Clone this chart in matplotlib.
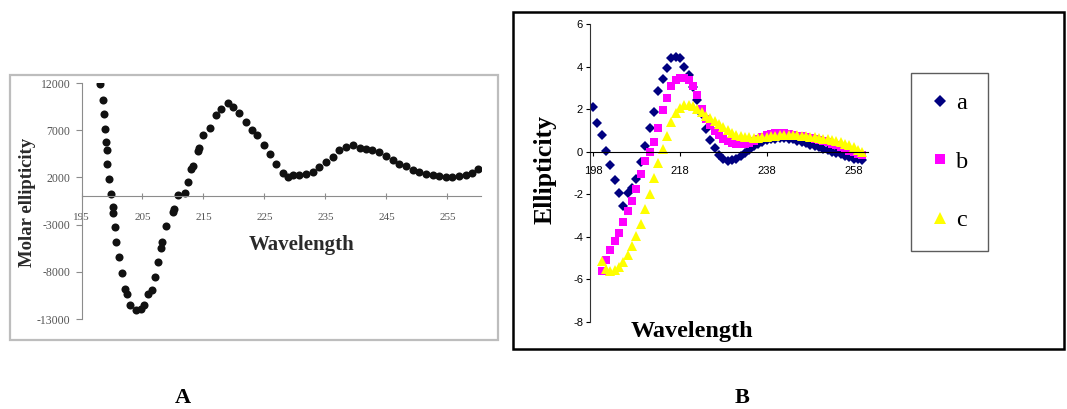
import matplotlib
matplotlib.use("Agg")
import matplotlib.pyplot as plt
from matplotlib.patches import Rectangle

plt.rcParams["axes.unicode_minus"] = False

W, H = 1067, 409

# ---------------- Panel A data ----------------
wl_A = [198.0, 198.5, 198.7, 198.9, 199.0, 199.1, 199.2, 199.5, 199.8, 200.1,
        200.2, 200.5, 200.7, 201.2, 201.6, 202.1, 202.5, 203.0, 203.9, 204.8,
        205.3, 205.9, 206.5, 207.0, 207.5, 208.0, 208.2, 208.9, 210.0, 210.2,
        210.9, 212.0, 212.5, 213.0, 213.2, 214.1, 214.2, 215.0, 216.0, 217.1,
        217.9, 219.0, 219.8, 220.8, 222.0, 222.9, 223.7, 225.0, 225.9, 226.9,
        228.0, 228.8, 229.6, 230.7, 231.8, 232.9, 234.0, 235.1, 236.2, 237.3,
        238.4, 239.5, 240.6, 241.6, 242.7, 243.8, 244.9, 246.0, 247.1, 248.2,
        249.3, 250.4, 251.5, 252.6, 253.6, 254.7, 255.8, 256.9, 258.0, 259.1,
        260.0]
molar_A = [11860, 10240, 8750, 7170, 5750, 4940, 3390, 1870, 280, -1130,
           -1730, -3250, -4840, -6420, -8080, -9780, -10300, -11540, -12070, -11900,
           -11500, -10300, -9950, -8540, -6950, -5470, -4840, -3180, -1660, -1300,
           100, 350, 1520, 2930, 3180, 4800, 5150, 6460, 7270, 8580,
           9280, 9880, 9460, 8860, 7870, 6990, 6460, 5400, 4520, 3460,
           2470, 2050, 2220, 2220, 2400, 2580, 3100, 3640, 4160, 4870,
           5220, 5400, 5150, 5050, 4940, 4690, 4240, 3810, 3460, 3180,
           2820, 2580, 2400, 2220, 2120, 2050, 2050, 2120, 2220, 2470,
           2930]
xticks_A = [195, 205, 215, 225, 235, 245, 255]
yticks_A = [12000, 7000, 2000, -3000, -8000, -13000]

# ---------------- Panel B data ----------------
wl_a = list(range(198, 261))
ell_a = [2.08, 1.37, 0.77, 0.05, -0.62, -1.33, -1.95, -2.55, -1.95, -1.7,
         -1.3, -0.47, 0.25, 1.1, 1.85, 2.85, 3.4, 3.95, 4.42, 4.47,
         4.4, 4.0, 3.62, 3.05, 2.45, 1.75, 1.05, 0.55, 0.17, -0.15,
         -0.35, -0.44, -0.4, -0.32, -0.2, -0.05, 0.1, 0.25, 0.38, 0.47,
         0.54, 0.59, 0.62, 0.65, 0.65, 0.62, 0.58, 0.52, 0.46, 0.4,
         0.33, 0.27, 0.2, 0.13, 0.06, 0.0, -0.07, -0.13, -0.2, -0.26,
         -0.32, -0.36, -0.37]

wl_b = list(range(200, 261))
ell_b = [-5.6, -5.1, -4.62, -4.2, -3.8, -3.3, -2.8, -2.3, -1.75, -1.05,
         -0.45, 0.0, 0.45, 1.1, 1.95, 2.52, 3.1, 3.38, 3.46, 3.45,
         3.35, 3.1, 2.65, 2.0, 1.55, 1.27, 0.98, 0.77, 0.62, 0.5,
         0.42, 0.36, 0.34, 0.36, 0.42, 0.5, 0.6, 0.7, 0.78, 0.85,
         0.9, 0.9, 0.88, 0.85, 0.8, 0.76, 0.72, 0.68, 0.64, 0.6,
         0.55, 0.5, 0.45, 0.38, 0.3, 0.22, 0.13, 0.05, -0.03, -0.1,
         -0.15]

wl_c = list(range(200, 261))
ell_c = [-5.15, -5.5, -5.6, -5.55, -5.42, -5.2, -4.85, -4.45, -3.95, -3.4,
         -2.7, -2.0, -1.25, -0.55, 0.15, 0.72, 1.4, 1.8, 2.05, 2.2,
         2.2, 2.15, 2.0, 1.85, 1.7, 1.57, 1.43, 1.3, 1.15, 1.02,
         0.9, 0.8, 0.74, 0.7, 0.68, 0.66, 0.66, 0.67, 0.69, 0.72,
         0.75, 0.78, 0.8, 0.8, 0.79, 0.77, 0.75, 0.72, 0.7, 0.67,
         0.64, 0.61, 0.58, 0.54, 0.5, 0.45, 0.38, 0.3, 0.2, 0.1,
         -0.02]
xticks_B = [198, 218, 238, 258]
yticks_B = [-8, -6, -4, -2, 0, 2, 4, 6]
series_names = ["a", "b", "c"]


def fx(px):
    return px / W


def fy(py):
    return 1 - py / H


def box(l, t, r, b):
    return [fx(l), fy(b), fx(r) - fx(l), fy(t) - fy(b)]


serif = "Liberation Serif"
sans = "Liberation Sans"

fig = plt.figure(figsize=(W / 100, H / 100), dpi=100)
fig.patch.set_facecolor("white")

# ---------------- Panel A ----------------
fig.patches.append(Rectangle((fx(10), fy(340)), fx(498) - fx(10), fy(75) - fy(340),
                             transform=fig.transFigure, fill=False,
                             edgecolor="#bdbdbd", linewidth=1.6))
axA = fig.add_axes(box(81.5, 83, 481, 319))
axA.plot(wl_A, molar_A, linestyle="none", marker="o", markersize=5.8,
         markeredgewidth=0, color="#111111")
axA.set_xlim(195, 260.5)
axA.set_ylim(-13000, 12000)
for s in ["top", "right"]:
    axA.spines[s].set_visible(False)
axA.spines["bottom"].set_position(("data", 0))
axA.spines["left"].set_color("#8c8c8c")
axA.spines["bottom"].set_color("#8c8c8c")
axA.set_xticks(xticks_A)
axA.set_yticks(yticks_A)
axA.tick_params(axis="x", direction="inout", length=4, color="#8c8c8c", pad=10,
                labelsize=8, labelcolor="#555555")
axA.tick_params(axis="y", direction="out", length=4, color="#8c8c8c", pad=4,
                labelsize=8.5, labelcolor="#555555")
for lab in axA.get_xticklabels() + axA.get_yticklabels():
    lab.set_family(serif)
axA.patch.set_alpha(0)
fig.text(fx(302), fy(245), "Wavelength", ha="center", va="center",
         family=serif, fontweight="bold", fontsize=15, color="#2a2a2a")
fig.text(fx(28), fy(202), "Molar ellipticity", ha="center", va="center",
         rotation=90, family=serif, fontweight="bold", fontsize=13.5, color="#2a2a2a")

# ---------------- Panel B ----------------
fig.patches.append(Rectangle((fx(513), fy(349)), fx(1064) - fx(513), fy(12) - fy(349),
                             transform=fig.transFigure, fill=False,
                             edgecolor="black", linewidth=1.8))
axB = fig.add_axes(box(590, 24, 868, 322))
la, = axB.plot(wl_a, ell_a, linestyle="none", marker="D", markersize=5.0,
               markeredgewidth=0, color="#000080")
lb, = axB.plot(wl_b, ell_b, linestyle="none", marker="s", markersize=6.3,
               markeredgewidth=0, color="#FF00FF")
lc, = axB.plot(wl_c, ell_c, linestyle="none", marker="^", markersize=7.4,
               markeredgewidth=0, color="#FFFF00")
axB.set_xlim(197.3, 261.3)
axB.set_ylim(-8, 6)
for s in ["top", "right"]:
    axB.spines[s].set_visible(False)
axB.spines["bottom"].set_position(("data", 0))
axB.spines["left"].set_color("#333333")
axB.spines["bottom"].set_color("black")
axB.set_xticks(xticks_B)
axB.set_yticks(yticks_B)
axB.tick_params(axis="x", direction="out", length=3, pad=7, labelsize=8)
axB.tick_params(axis="y", direction="out", length=3, pad=2, labelsize=8)
for lab in axB.get_xticklabels() + axB.get_yticklabels():
    lab.set_family(sans)
axB.patch.set_alpha(0)
fig.text(fx(692), fy(331), "Wavelength", ha="center", va="center",
         family=serif, fontweight="bold", fontsize=17.5)
fig.text(fx(545), fy(170), "Ellipticity", ha="center", va="center",
         rotation=90, family=serif, fontweight="bold", fontsize=18.5)

leg = fig.legend([la, lb, lc], series_names, loc="upper left",
                 bbox_to_anchor=(fx(911), fy(73)), bbox_transform=fig.transFigure,
                 frameon=True, fancybox=False, edgecolor="#333333",
                 prop={"family": serif, "size": 17.5}, markerscale=1.15,
                 handlelength=0.8, handletextpad=0.25, labelspacing=1.5,
                 borderpad=0.8, borderaxespad=0, numpoints=1)
leg.get_frame().set_linewidth(1.0)

# ---------------- Panel letters ----------------
fig.text(fx(183), fy(398), "A", ha="center", va="center", family=serif,
         fontweight="bold", fontsize=16)
fig.text(fx(742), fy(398), "B", ha="center", va="center", family=serif,
         fontweight="bold", fontsize=16)

fig.savefig("out.png", dpi=100, facecolor="white")
